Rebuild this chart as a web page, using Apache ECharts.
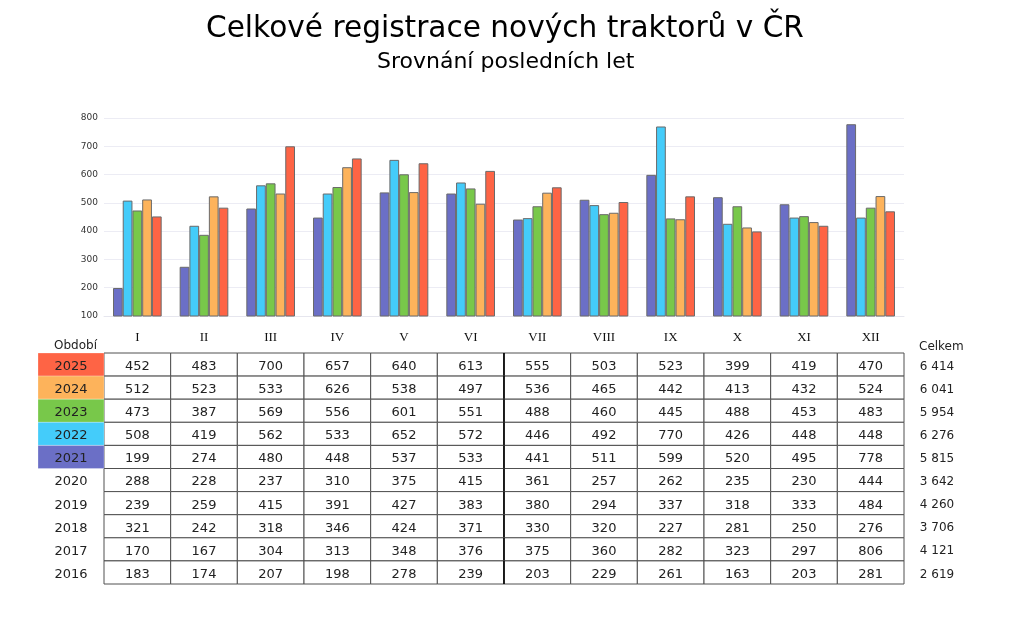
<!DOCTYPE html>
<html>
<head>
<meta charset="utf-8">
<script src="https://cdn.jsdelivr.net/npm/echarts@6/dist/echarts.min.js"></script>
<style>html,body{margin:0;padding:0;background:#fff}#c{width:1024px;height:631px}</style>
</head>
<body>
<div id="c"></div>
<script>
const months = ['I','II','III','IV','V','VI','VII','VIII','IX','X','XI','XII'];
const years = ['2025','2024','2023','2022','2021','2020','2019','2018','2017','2016'];
const v2025 = [452,483,700,657,640,613,555,503,523,399,419,470];
const v2024 = [512,523,533,626,538,497,536,465,442,413,432,524];
const v2023 = [473,387,569,556,601,551,488,460,445,488,453,483];
const v2022 = [508,419,562,533,652,572,446,492,770,426,448,448];
const v2021 = [199,274,480,448,537,533,441,511,599,520,495,778];
const v2020 = [288,228,237,310,375,415,361,257,262,235,230,444];
const v2019 = [239,259,415,391,427,383,380,294,337,318,333,484];
const v2018 = [321,242,318,346,424,371,330,320,227,281,250,276];
const v2017 = [170,167,304,313,348,376,375,360,282,323,297,806];
const v2016 = [183,174,207,198,278,239,203,229,261,163,203,281];
const totals = ['6 414','6 041','5 954','6 276','5 815','3 642','4 260','3 706','4 121','2 619'];
const yTicks = [100,200,300,400,500,600,700,800];

const rows = [v2025,v2024,v2023,v2022,v2021,v2020,v2019,v2018,v2017,v2016];
const yearColors = {'2025':'#fe6445','2024':'#fdb35b','2023':'#78c84a','2022':'#44ccfa','2021':'#6b6fc6'};
const barYears = ['2021','2022','2023','2024','2025'];
const barData = {'2021':v2021,'2022':v2022,'2023':v2023,'2024':v2024,'2025':v2025};
const FONT = 'DejaVu Sans';

const cells = [];
rows.forEach((r, ri) => r.forEach((v, ci) => cells.push([ci, ri, v])));
const yearCells = years.map((y, i) => [0, i, y]);
const totalCells = totals.map((t, i) => [0, i, t]);

const chart = echarts.init(document.getElementById('c'));
chart.setOption({
  animation: false,
  backgroundColor: '#fff',
  title: [
    {text: 'Celkové registrace nových traktorů v ČR', left: 201, top: 9,
     textStyle: {fontFamily: FONT, fontSize: 29.6, fontWeight: 'normal', color: '#000'}},
    {text: 'Srovnání posledních let', left: 372, top: 46,
     textStyle: {fontFamily: FONT, fontSize: 22, fontWeight: 'normal', color: '#000'}},
    {text: 'Období', left: 49, top: 335,
     textStyle: {fontFamily: FONT, fontSize: 12, fontWeight: 'normal', color: '#222'}},
    {text: 'Celkem', left: 914, top: 336,
     textStyle: {fontFamily: FONT, fontSize: 12, fontWeight: 'normal', color: '#222'}}
  ],
  grid: [
    {left: 104, width: 800, top: 118, height: 198},
    {left: 104, width: 800, top: 353, height: 231},
    {left: 38, width: 66, top: 353, height: 231},
    {left: 904, width: 66, top: 353, height: 231}
  ],
  xAxis: [
    {type: 'category', gridIndex: 0, data: months,
     axisLine: {show: true, lineStyle: {color: '#e6e6ee'}}, axisTick: {show: false},
     axisLabel: {fontFamily: 'Liberation Serif', fontSize: 13, color: '#111', margin: 15}},
    {type: 'category', gridIndex: 1, data: months, show: false},
    {type: 'category', gridIndex: 2, data: [''], show: false},
    {type: 'category', gridIndex: 3, data: [''], show: false}
  ],
  yAxis: [
    {type: 'value', gridIndex: 0, min: 100, max: 800, interval: 100,
     axisLine: {show: false}, axisTick: {show: false},
     axisLabel: {fontFamily: FONT, fontSize: 9, color: '#333', margin: 6,
                 formatter: v => yTicks.includes(v) ? String(v) : ''},
     splitLine: {lineStyle: {color: '#ececf4'}}},
    {type: 'category', gridIndex: 1, data: years, inverse: true, show: false},
    {type: 'category', gridIndex: 2, data: years, inverse: true, show: false},
    {type: 'category', gridIndex: 3, data: years, inverse: true, show: false}
  ],
  series: [
    ...barYears.map(y => ({
      type: 'bar', name: y, xAxisIndex: 0, yAxisIndex: 0, data: barData[y],
      barGap: '0%', barCategoryGap: '27%',
      itemStyle: {color: yearColors[y], borderColor: '#6a6a6a', borderWidth: 1}
    })),
    {
      type: 'custom', xAxisIndex: 1, yAxisIndex: 1, data: cells,
      renderItem: (params, api) => {
        const p = api.coord([api.value(0), api.value(1)]);
        const s = api.size([1, 1]);
        const x0 = p[0] - s[0] / 2, y0 = p[1] - s[1] / 2;
        const children = [
          {type: 'rect', shape: {x: x0, y: y0, width: s[0], height: s[1]},
           style: {fill: '#fff', stroke: '#505050', lineWidth: 1}},
          {type: 'text', style: {x: p[0], y: p[1] + 2, text: String(api.value(2)), align: 'center',
           verticalAlign: 'middle', font: '13px "DejaVu Sans"', fill: '#222'}}
        ];
        if (api.value(0) === 6) {
          children.push({type: 'line', shape: {x1: x0, y1: y0, x2: x0, y2: y0 + s[1]},
            style: {stroke: '#000', lineWidth: 1.6}});
        }
        return {type: 'group', children};
      }
    },
    {
      type: 'custom', xAxisIndex: 2, yAxisIndex: 2, data: yearCells,
      renderItem: (params, api) => {
        const p = api.coord([api.value(0), api.value(1)]);
        const s = api.size([1, 1]);
        const y = years[api.value(1)];
        const c = yearColors[y];
        const children = [];
        if (c) {
          children.push({type: 'rect', shape: {x: p[0] - s[0] / 2, y: p[1] - s[1] / 2, width: s[0], height: s[1]},
            style: {fill: c, stroke: 'rgba(255,255,255,0.5)', lineWidth: 0.5}});
        }
        children.push({type: 'text', style: {x: p[0], y: p[1] + 2, text: y, align: 'center',
          verticalAlign: 'middle', font: '13px "DejaVu Sans"', fill: '#222'}});
        return {type: 'group', children};
      }
    },
    {
      type: 'custom', xAxisIndex: 3, yAxisIndex: 3, data: totalCells,
      renderItem: (params, api) => {
        const p = api.coord([api.value(0), api.value(1)]);
        return {type: 'text', style: {x: p[0], y: p[1] + 2, text: totals[api.value(1)], align: 'center',
          verticalAlign: 'middle', font: '12px "DejaVu Sans"', fill: '#222'}};
      }
    }
  ]
});
</script>
</body>
</html>
